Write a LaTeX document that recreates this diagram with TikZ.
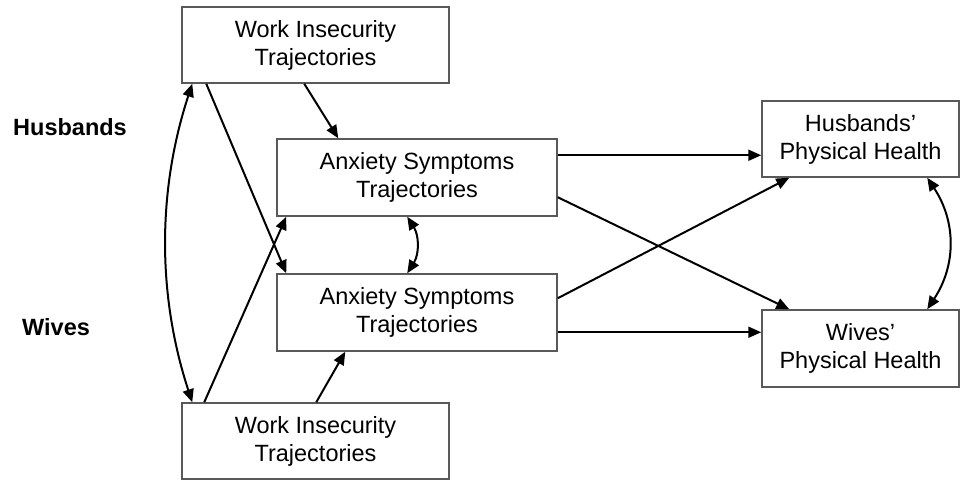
\documentclass[tikz,border=0pt]{standalone}
\usepackage{fontspec}
\setmainfont{Liberation Sans}
\usetikzlibrary{arrows.meta,calc}
\begin{document}
\begin{tikzpicture}[x=1pt,y=-1pt,
  box/.style={draw=black!65, line width=1.5pt, fill=white, align=center, inner sep=0pt,
    font=\fontsize{23.5}{28}\selectfont},
  arr/.style={line width=2pt, -{Triangle[length=13pt,width=11pt]}},
  darr/.style={line width=2pt, {Triangle[length=13pt,width=11pt]}-{Triangle[length=13pt,width=11pt]}},
  grp/.style={font=\fontsize{23.5}{28}\selectfont\bfseries, anchor=west, inner sep=0pt}]
\useasboundingbox (0,0) rectangle (961,481);
\node[box, minimum width=267pt, minimum height=76pt] (tw) at (315.5,45) {Work Insecurity\\Trajectories};
\node[box, minimum width=280pt, minimum height=77pt] (ha) at (417,177.5) {Anxiety Symptoms\\Trajectories};
\node[box, minimum width=280pt, minimum height=77pt] (wa) at (417,312.5) {Anxiety Symptoms\\Trajectories};
\node[box, minimum width=267pt, minimum height=76pt] (bw) at (315.5,441) {Work Insecurity\\Trajectories};
\node[box, minimum width=197pt, minimum height=76pt] (hh) at (860.5,139) {Husbands’\\Physical Health};
\node[box, minimum width=197pt, minimum height=77pt] (wh) at (860.5,348.5) {Wives’\\Physical Health};
\node[grp] (lh) at (13,127) {Husbands};
\node[grp] (lw) at (22,327) {Wives};
% left side
\draw[arr] ([xshift=123pt]tw.south west) -- ([xshift=62pt]ha.north west);
\draw[arr] ([xshift=25pt]tw.south west) -- ([xshift=10pt]wa.north west);
\draw[arr] ([xshift=23pt]bw.north west) -- ([xshift=10pt]ha.south west);
\draw[arr] ([xshift=135pt]bw.north west) -- ([xshift=69pt]wa.south west);
\draw[darr] ([xshift=11pt]tw.south west) .. controls +(-35,107) and +(-35,-107) .. ([xshift=11pt]bw.north west);
\draw[darr] ([xshift=131pt]ha.south west) .. controls +(12,19) and +(12,-19) .. ([xshift=131pt]wa.north west);
% right side
\draw[arr] ([yshift=-17pt]ha.north east) -- ([yshift=-17pt]ha.north east -| hh.west);
\draw[arr] ([yshift=-59pt]ha.north east) -- ([xshift=28pt]wh.north west);
\draw[arr] ([yshift=-25pt]wa.north east) -- ([xshift=28pt]hh.south west);
\draw[arr] ([yshift=-59pt]wa.north east) -- ([yshift=-59pt]wa.north east -| wh.west);
\draw[darr] ([xshift=166pt]hh.south west) .. controls +(29,44) and +(29,-44) .. ([xshift=166pt]wh.north west);
\end{tikzpicture}
\end{document}
